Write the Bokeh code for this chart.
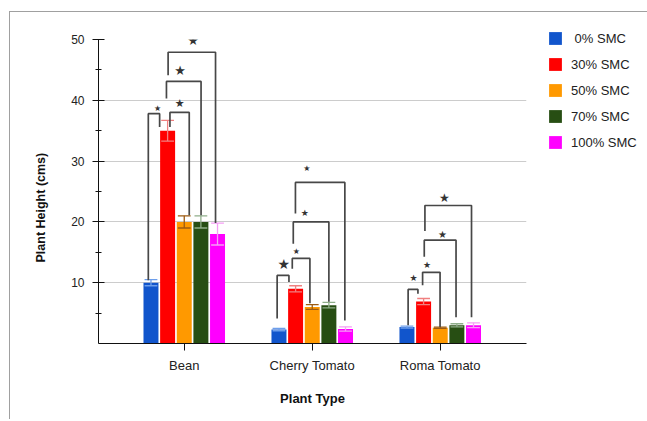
from bokeh.plotting import figure
from bokeh.models import (Range1d, FixedTicker, ColumnDataSource, Legend, LegendItem,
                          LabelSet, Title)
from bokeh.core.properties import value, field
from bokeh.embed import file_html
from bokeh.resources import INLINE

# ---------------- data ----------------
categories = ["Bean", "Cherry Tomato", "Roma Tomato"]
series_names = [" 0% SMC", "30% SMC", "50% SMC", "70% SMC", "100% SMC"]

smc_0 = [10.0, 2.3, 2.7]
smc_30 = [35.0, 9.0, 6.9]
smc_50 = [20.0, 6.0, 2.6]
smc_70 = [20.0, 6.3, 3.0]
smc_100 = [18.0, 2.4, 3.0]

err_0 = [0.5, 0.2, 0.15]
err_30 = [1.7, 0.5, 0.5]
err_50 = [1.0, 0.4, 0.1]
err_70 = [1.0, 0.45, 0.25]
err_100 = [1.8, 0.35, 0.4]

y_ticks = [10, 20, 30, 40, 50]
y_minor_ticks = [5, 15, 25, 35, 45]

# significance brackets: group, left slot, right slot, left-leg bottom, top, right-leg bottom
br_group = [0, 0, 0, 0, 1, 1, 1, 1, 2, 2, 2, 2]
br_left = [-0.16, 1.14, 0.93, 1.03, -0.11, 0.80, 0.86, 0.99, 0.07, 0.94, 1.04, 1.08]
br_right = [0.52, 2.30, 3.01, 3.88, 0.60, 1.86, 3.00, 3.96, 0.66, 1.99, 2.95, 3.88]
br_ylb = [10.4, 35.6, 40.3, 44.1, 4.1, 12.3, 16.4, 21.4, 3.0, 9.6, 14.25, 18.5]
br_ytop = [37.8, 38.0, 43.1, 47.9, 11.2, 14.0, 20.0, 26.5, 8.9, 11.7, 17.0, 22.7]
br_yrb = [35.6, 21.1, 21.1, 19.8, 10.1, 6.6, 6.85, 3.8, 8.2, 2.7, 4.3, 4.3]
star_slot = [0.39, 1.73, 1.75, 2.53, 0.29, 1.05, 1.55, 1.67, 0.40, 1.20, 2.14, 2.25]
star_y = [38.7, 39.4, 44.95, 49.9, 13.0, 15.2, 21.5, 28.8, 10.8, 12.9, 17.9, 23.85]
star_size = ["8px", "11px", "13px", "13px", "14px", "8px", "9px", "8px", "9px", "9px", "10px", "12px"]

# ---------------- styling ----------------
bar_colors = ["#1155cc", "#ff0000", "#ff9900", "#274e13", "#ff00ff"]
err_colors = ["#6d9eeb", "#f08080", "#9c5b12", "#8fae8a", "#f59ef5"]
FONT = "Liberation Sans"
PITCH = 0.13
BAR_W = 0.117
CAP = 0.05

values = [smc_0, smc_30, smc_50, smc_70, smc_100]
errors = [err_0, err_30, err_50, err_70, err_100]

p = figure(frame_width=428, frame_height=304,
           x_range=Range1d(-0.670, 2.674), y_range=Range1d(0, 50),
           output_backend="svg", toolbar_location=None,
           min_border_left=88, min_border_right=112,
           min_border_top=27, min_border_bottom=76)
p.styles = {"margin-left": "9px", "margin-top": "11px",
            "border-left": "1px solid #a0a0a0", "border-top": "1px solid #a0a0a0"}
p.outline_line_color = None
p.background_fill_color = "white"
p.border_fill_color = "white"

legend_items = []
for i in range(5):
    xs = [g + (i - 2) * PITCH for g in range(len(categories))]
    src = ColumnDataSource(dict(
        x=xs, top=values[i],
        lo=[v - e for v, e in zip(values[i], errors[i])],
        hi=[v + e for v, e in zip(values[i], errors[i])],
        xl=[x - CAP for x in xs], xr=[x + CAP for x in xs]))
    r = p.vbar(x="x", top="top", width=BAR_W, source=src,
               fill_color=bar_colors[i], line_color=None)
    p.segment(x0="x", y0="lo", x1="x", y1="hi", source=src,
              line_color=err_colors[i], line_width=1.3)
    p.segment(x0="xl", y0="hi", x1="xr", y1="hi", source=src,
              line_color=err_colors[i], line_width=1.3)
    p.segment(x0="xl", y0="lo", x1="xr", y1="lo", source=src,
              line_color=err_colors[i], line_width=1.3)
    legend_items.append(LegendItem(label=series_names[i], renderers=[r]))

# brackets
bxs, bys = [], []
for g, l, rr, ylb, yt, yrb in zip(br_group, br_left, br_right, br_ylb, br_ytop, br_yrb):
    xl = g + (l - 2) * PITCH
    xr = g + (rr - 2) * PITCH
    bxs.append([xl, xl, xr, xr])
    bys.append([ylb, yt, yt, yrb])
p.multi_line(xs=bxs, ys=bys, line_color="#474747", line_width=1.7)

star_src = ColumnDataSource(dict(
    x=[g + (s - 2) * PITCH for g, s in zip(br_group, star_slot)],
    y=star_y, text=["\u2605"] * len(star_y), size=star_size))
p.add_layout(LabelSet(x="x", y="y", text="text", source=star_src,
                      text_font=value("DejaVu Sans"), text_font_size=field("size"),
                      text_color="#333333", text_align="center", text_baseline="middle"))

# axes
xa = p.xaxis[0]
xa.ticker = FixedTicker(ticks=[0, 1, 2], minor_ticks=[])
xa.major_label_overrides = {0: categories[0], 1: categories[1], 2: categories[2]}
xa.major_tick_in = 0
xa.major_tick_out = 7
xa.minor_tick_in = 0
xa.minor_tick_out = 0
xa.major_label_standoff = 7
xa.major_label_text_font = FONT
xa.major_label_text_font_size = "13px"
xa.major_label_text_color = "#222222"
xa.axis_label = "Plant Type"
xa.axis_label_text_font = FONT
xa.axis_label_text_font_size = "13px"
xa.axis_label_text_font_style = "bold"
xa.axis_label_text_color = "#111111"
xa.axis_label_standoff = 15
xa.axis_line_color = "#111111"
xa.major_tick_line_color = "#111111"

ya = p.yaxis[0]
ya.ticker = FixedTicker(ticks=y_ticks, minor_ticks=y_minor_ticks)
ya.major_tick_in = 6
ya.major_tick_out = 6
ya.minor_tick_in = 3
ya.minor_tick_out = 3
ya.major_label_standoff = 8
ya.major_label_text_font = FONT
ya.major_label_text_font_size = "12px"
ya.major_label_text_color = "#222222"
ya.axis_line_color = "#111111"
ya.major_tick_line_color = "#111111"
ya.minor_tick_line_color = "#111111"

ytitle = Title(text="Plant Height (cms)", align="left", offset=81, standoff=41,
               text_font=FONT, text_font_size="12.5px", text_font_style="bold",
               text_color="#111111")
p.add_layout(ytitle, "left")

p.xgrid.visible = False
p.ygrid.ticker = FixedTicker(ticks=y_ticks)
p.ygrid.grid_line_color = "#cccccc"

legend = Legend(items=legend_items, location=(21, 193),
                glyph_width=16, glyph_height=16, label_height=13,
                label_standoff=8, spacing=10, padding=0, margin=0,
                label_text_font=FONT, label_text_font_size="13px",
                label_text_color="#222222",
                border_line_color=None, background_fill_alpha=0)
p.add_layout(legend, "right")

open("out.html", "w").write(file_html(p, INLINE))
